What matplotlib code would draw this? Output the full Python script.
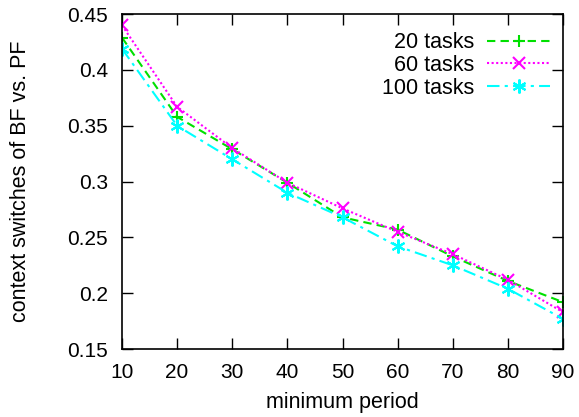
import matplotlib
matplotlib.use("Agg")
from matplotlib import pyplot as plt

plt.rcParams['font.family'] = ['Liberation Sans', 'DejaVu Sans']

periods = [10, 20, 30, 40, 50, 60, 70, 80, 90]
tasks20 = [0.429, 0.358, 0.329, 0.299, 0.268, 0.257, 0.233, 0.211, 0.192]
tasks60 = [0.440, 0.367, 0.330, 0.299, 0.276, 0.255, 0.235, 0.212, 0.183]
tasks100 = [0.419, 0.350, 0.320, 0.290, 0.268, 0.242, 0.225, 0.204, 0.177]
labels = ["20 tasks", "60 tasks", "100 tasks"]

fig = plt.figure(figsize=(5.79, 4.17), dpi=100)
ax = fig.add_axes([0.2107, 0.163, 0.7617, 0.803])

ax.plot(periods, tasks20, color='#00e000', linestyle=(0, (4, 2.5)), lw=1.5,
        marker='+', markersize=9, markeredgewidth=1.5, label=labels[0])
ax.plot(periods, tasks60, color='#ff00ff', linestyle=(0, (1, 1.2)), lw=1.5,
        marker='x', markersize=8, markeredgewidth=1.5, label=labels[1])
ax.plot(periods, tasks100, color='#00ffff', linestyle=(0, (6, 2.5, 1.5, 2.5)), lw=1.5,
        marker=(6, 2, 0), markersize=10, markeredgewidth=1.5, label=labels[2])

ax.set_xlim(10, 90)
ax.set_ylim(0.15, 0.45)
ax.set_xticks(periods)
ax.set_yticks([0.15, 0.2, 0.25, 0.3, 0.35, 0.4, 0.45])
ax.set_yticklabels(['0.15', '0.2', '0.25', '0.3', '0.35', '0.4', '0.45'])
ax.tick_params(direction='in', top=True, right=True, length=8, width=1,
               labelsize=15, pad=10)
ax.tick_params(axis='x', pad=10)
for s in ax.spines.values():
    s.set_linewidth(1.2)

ax.set_xlabel("minimum period", fontsize=15.5, labelpad=7)
ax.set_ylabel("context switches of BF vs. PF", fontsize=15.5, labelpad=26)

ax.legend(loc='upper right', frameon=False, markerfirst=False, fontsize=15.5,
          handlelength=2.9, handletextpad=0.6, borderpad=0, borderaxespad=0,
          labelspacing=0.08, bbox_to_anchor=(0.97, 0.946))

fig.savefig("out.png", dpi=100)
